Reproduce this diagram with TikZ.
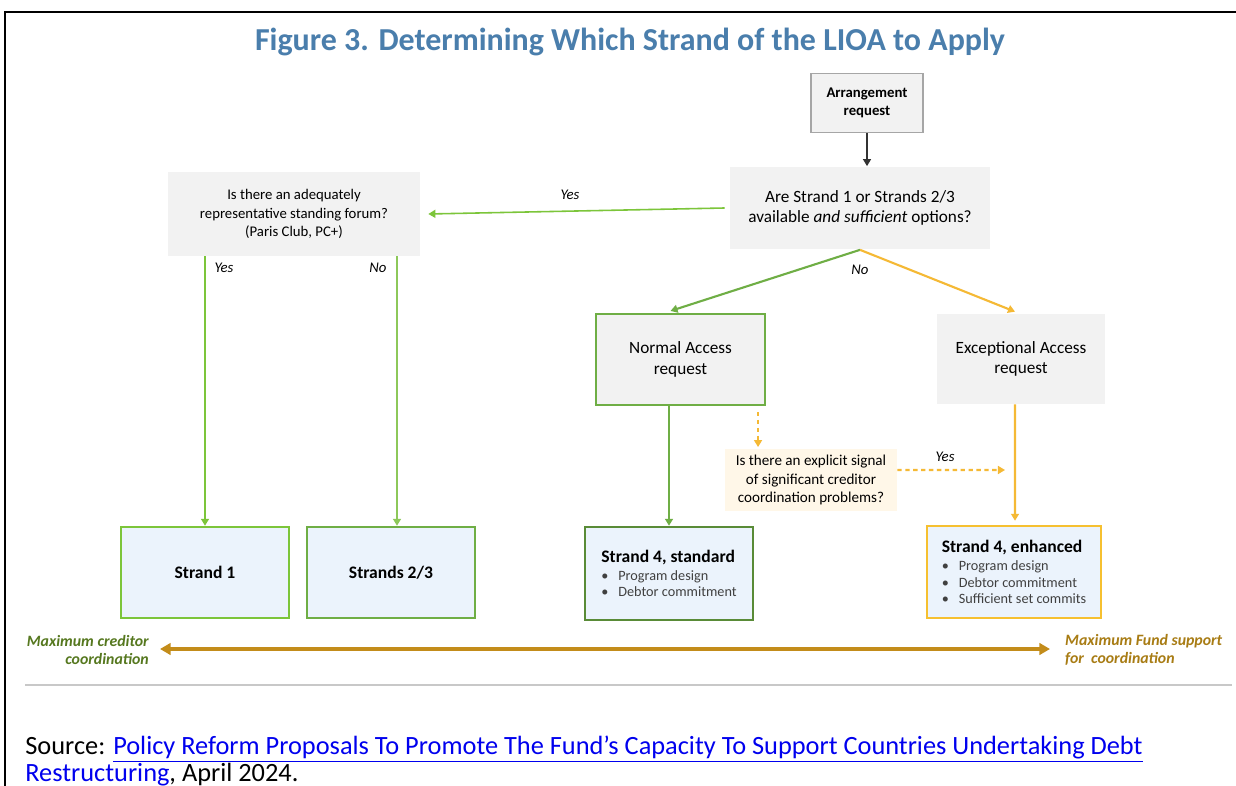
\documentclass[tikz,border=0pt]{standalone}
\usepackage{fontspec}
\setmainfont{Carlito}
\usepackage{tikz}
\usetikzlibrary{arrows.meta}
\usetikzlibrary{positioning}
\usetikzlibrary{calc}
\definecolor{titleblue}{HTML}{4A7EAC}
\definecolor{qgray}{HTML}{F2F2F2}
\definecolor{startline}{HTML}{A6A6A6}
\definecolor{strandfill}{HTML}{EBF3FC}
\definecolor{signalfill}{HTML}{FFF7E8}
\definecolor{lime}{HTML}{7CC53A}
\definecolor{leaf}{HTML}{8DC85A}
\definecolor{moss}{HTML}{6FAE45}
\definecolor{amber}{HTML}{F5B935}
\definecolor{axisbrown}{HTML}{C38C1A}
\definecolor{olivetext}{HTML}{56781F}
\definecolor{goldtext}{HTML}{A87C14}
\definecolor{rulegray}{HTML}{C8C8C8}
\definecolor{linkblue}{HTML}{0000EE}
\definecolor{bulgray}{HTML}{404040}
\newcommand{\boxfont}{\fontsize{8.4}{10.4}\selectfont}
\newcommand{\reqfont}{\fontsize{9.8}{11.6}\selectfont}
\newcommand{\bulfont}{\fontsize{8.1}{9.2}\selectfont\color{bulgray}}
\newcommand{\strandfont}{\fontsize{10}{12}\selectfont\bfseries\color{black}}
\newcommand{\bul}{\makebox[0.34cm][l]{\textbullet}}

\begin{document}
\begin{tikzpicture}[
  x=0.02cm, y=-0.02cm,
  dep/.style={
    -{Triangle[width=4.5pt,length=4pt]}, line width=0.9pt},
  qbox/.style 2 args={
    rectangle, fill=qgray, align=center,
    minimum width=#1, minimum height=#2,
    font=\boxfont},
  strandbox/.style 2 args={
    rectangle, fill=strandfill, draw=#2, line width=1.4pt,
    minimum width=#1, minimum height=1.82cm,
    font=\strandfont},
  listbox/.style={
    align=left, font=\bulfont},
  lbl/.style={font=\boxfont\itshape},
  axislbl/.style={font=\fontsize{9}{10.6}\selectfont\bfseries\itshape},
]

  \useasboundingbox (0,0) rectangle (1236,786);
  \fill[white] (0,0) rectangle (1236,786);
  \draw[line width=1.3pt] (5,786) -- (5,12) -- (1236,12);

  \node[text=titleblue, font=\fontsize{18.2}{20}\selectfont\bfseries] (title) at (630,42)
    {Figure 3. Determining Which Strand of the LIOA to Apply};

  % Questions and requests
  \node[qbox={2.24cm}{1.18cm}, draw=startline, line width=0.9pt, font=\boxfont\bfseries] (arr) at (867,103)
    {Arrangement\\request};
  \node[qbox={5.2cm}{1.66cm}, font=\reqfont] (avail) at (860,208)
    {Are Strand 1 or Strands 2/3\\available \textit{and sufficient} options?};
  \node[qbox={5.04cm}{1.68cm}] (forum) at (294,214)
    {Is there an adequately\\representative standing forum?\\(Paris Club, PC+)};
  \node[qbox={3.38cm}{1.82cm}, draw=moss, line width=1.2pt, font=\reqfont] (normal) at (680.5,359.5)
    {Normal Access\\request};
  \node[qbox={3.36cm}{1.8cm}, font=\reqfont] (except) at (1021,359)
    {Exceptional Access\\request};
  \node[qbox={3.44cm}{1.2cm}, fill=signalfill, font=\fontsize{8.6}{10.4}\selectfont] (signal) at (811,480)
    {Is there an explicit signal\\of significant creditor\\coordination problems?};

  % Strands
  \node[strandbox={3.36cm}{lime}] (s1) at (205,572.5) {Strand 1};
  \node[strandbox={3.36cm}{moss}] (s23) at (391,572.5) {Strands 2/3};
  \node[strandbox={3.36cm}{moss!80!black}, minimum height=1.86cm, listbox] (std) at (669,573.5)
    {{\strandfont Strand 4, standard}\\[1pt]
     \bul Program design\\
     \bul Debtor commitment};
  \node[strandbox={3.48cm}{amber!90!yellow}, minimum height=1.84cm, listbox] (enh) at (1014,572)
    {{\strandfont Strand 4, enhanced}\\[1pt]
     \bul Program design\\
     \bul Debtor commitment\\
     \bul Sufficient set commits};

  % Connectors
  \draw[dep, black!80] (arr.south) -- (arr.south |- avail.north);
  \draw[dep, lime] ([xshift=-0.1cm]avail.west) -- ([xshift=0.16cm]forum.east);
  \node[lbl] at (570,195) {Yes};

  \draw[dep, lime, line width=1.5pt] (s1.north |- forum.south) -- (s1.north);
  \node[lbl] at (224,268) {Yes};
  \draw[dep, leaf, line width=1.3pt] ([xshift=0.12cm]s23.north |- forum.south) -- ([xshift=0.12cm]s23.north);
  \node[lbl] at (378,268) {No};

  \draw[dep, moss, line width=1.2pt] (avail.south) -- ([xshift=-0.2cm,yshift=0.04cm]normal.north);
  \draw[dep, amber, line width=1.2pt] (avail.south) -- ([xshift=-0.12cm,yshift=0.04cm]except.north);
  \node[lbl] at (860,270) {No};

  \draw[dep, moss, line width=1.2pt] (std.north |- normal.south) -- (std.north);
  \coordinate (dashstart) at ($(normal.south east)+(-8,6)$);
  \draw[dep, amber, line width=1.2pt, dash pattern=on 2.5pt off 2pt]
    (dashstart) -- ([yshift=0.04cm]dashstart |- signal.north);
  \coordinate (yesend) at (1005,470);
  \draw[dep, amber, line width=1.2pt, dash pattern=on 2.5pt off 2pt]
    ([yshift=0.2cm]signal.east) -- (yesend);
  \node[lbl] at (945,457) {Yes};
  \draw[dep, amber, line width=1.2pt] ([xshift=-0.12cm]except.south) -- ([xshift=0.02cm,yshift=0.08cm]enh.north);

  % Creditor coordination scale
  \coordinate (axl) at (160,649);
  \coordinate (axr) at (1050,649);
  \draw[{Triangle[width=6.5pt,length=6pt]}-{Triangle[width=6.5pt,length=6pt]}, axisbrown, line width=2pt] (axl) -- (axr);
  \node[axislbl, text=olivetext, align=right, anchor=east] (maxcred) at (155,650)
    {Maximum creditor\\coordination};
  \node[axislbl, text=goldtext, align=left, anchor=west] (maxfund) at (1059,650)
    {Maximum Fund support\\for\ \ coordination};

  \draw[rulegray, line width=1.2pt] (25,685) -- (1232,685);

  \node[anchor=base west, inner sep=0pt, font=\fontsize{15}{17}\selectfont] (src) at (25,754)
    {Source: \textcolor{linkblue}{\underline{Policy Reform Proposals To Promote The Fund’s Capacity To Support Countries Undertaking Debt}}};
  \node[anchor=base west, inner sep=0pt, font=\fontsize{15}{17}\selectfont] (src2) at (25,781)
    {\textcolor{linkblue}{\underline{Restructuring}}, April 2024.};

\end{tikzpicture}
\end{document}
